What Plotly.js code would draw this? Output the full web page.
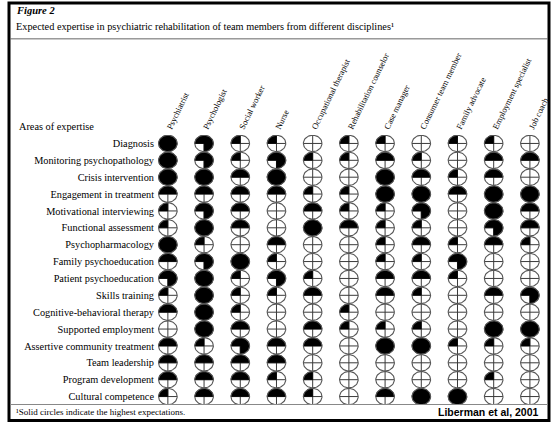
<!DOCTYPE html>
<html><head><meta charset="utf-8">
<script src="https://cdn.plot.ly/plotly-3.0.1.min.js"></script>
<style>html,body{margin:0;padding:0;background:#fff}</style>
</head><body><div id="chart" style="width:557px;height:426px"></div>
<script>
const disciplines = ["Psychiatrist","Psychologist","Social worker","Nurse","Occupational therapist","Rehabilitation counselor","Case manager","Consumer team member","Family advocate","Employment specialist","Job coach"];
const areas = ["Diagnosis","Monitoring psychopathology","Crisis intervention","Engagement in treatment","Motivational interviewing","Functional assessment","Psychopharmacology","Family psychoeducation","Patient psychoeducation","Skills training","Cognitive-behavioral therapy","Supported employment","Assertive community treatment","Team leadership","Program development","Cultural competence"];
// filled quarters (0-4) per discipline, one value per area
const psychiatrist = [4,4,4,2,1,1,4,2,3,1,2,0,2,2,2,1];
const psychologist = [3,3,4,2,3,4,1,3,4,4,4,4,1,2,2,2];
const socialWorker = [1,1,2,2,2,2,0,4,1,1,1,2,3,2,2,2];
const nurse        = [1,3,4,2,0,0,2,1,3,1,0,0,2,2,1,2];
const occTherapist = [0,1,0,1,2,4,0,0,1,2,0,2,2,0,1,1];
const rehabCounsel = [1,1,0,1,1,2,0,0,0,0,1,1,0,0,0,0];
const caseManager  = [1,2,4,4,1,1,1,1,2,2,0,1,4,0,0,2];
const consumer     = [0,1,2,4,3,1,2,1,2,1,0,1,4,0,0,4];
const familyAdv    = [1,0,1,2,0,0,1,3,1,0,0,0,1,0,0,4];
const employSpec   = [1,2,2,4,4,3,2,0,0,2,0,4,1,0,1,0];
const jobCoach     = [0,2,0,4,2,2,1,0,0,3,0,4,1,0,0,0];
const values = [psychiatrist,psychologist,socialWorker,nurse,occTherapist,rehabCounsel,caseManager,consumer,familyAdv,employSpec,jobCoach];

const W=557,H=426,ml=157,mr=9,mt=134.5,mb=20.5;
const pw=W-ml-mr, ph=H-mt-mb;
const xr=[-0.3,10.5], yr=[15.5,-0.5];
const ux = pw/(xr[1]-xr[0]), uy = ph/(yr[0]-yr[1]);
const rx = 9.3/ux, ry = 8.2/uy;
const PX = p => (p-ml)/pw, PY = p => (H-mb-p)/ph;

const wx=[],wy=[],ox=[],oy=[],cx=[],cy=[];
const N=48;
values.forEach((col,i)=>{
  col.forEach((v,j)=>{
    for(let k=0;k<=N;k++){const t=2*Math.PI*k/N; ox.push(i+rx*Math.cos(t)); oy.push(j-ry*Math.sin(t));}
    ox.push(null); oy.push(null);
    cx.push(i-rx,i+rx,null,i,i,null); cy.push(j,j,null,j-ry,j+ry,null);
    if(v>0){
      const a1=Math.PI, a0=Math.PI-v*Math.PI/2;
      const steps=Math.max(4,Math.round(12*v));
      if(v<4){wx.push(i); wy.push(j);}
      for(let k=0;k<=steps;k++){const t=a0+(a1-a0)*k/steps; wx.push(i+rx*Math.cos(t)); wy.push(j-ry*Math.sin(t));}
      if(v<4){wx.push(i); wy.push(j);}
      wx.push(null); wy.push(null);
    }
  });
});

const traces=[
  {x:cx,y:cy,mode:'lines',line:{color:'#3a3a3a',width:1},hoverinfo:'skip',type:'scatter'},
  {x:wx,y:wy,mode:'lines',fill:'toself',fillcolor:'#000',line:{color:'#000',width:0.6},hoverinfo:'skip',type:'scatter'},
  {x:ox,y:oy,mode:'lines',line:{color:'#555',width:1.1},hoverinfo:'skip',type:'scatter'}
];
const serif='"Liberation Serif", "DejaVu Serif", serif';
const layout={
  width:W,height:H,margin:{l:ml,r:mr,t:mt,b:mb},
  paper_bgcolor:'#fff',plot_bgcolor:'#fff',showlegend:false,
  xaxis:{range:xr,side:'top',tickmode:'array',tickvals:disciplines.map((d,i)=>i),ticktext:disciplines,tickangle:-64,
    showgrid:false,zeroline:false,showline:false,ticks:'',tickfont:{family:serif,size:8.5,color:'#000'},fixedrange:true},
  yaxis:{range:yr,tickmode:'array',tickvals:areas.map((a,j)=>j),ticktext:areas,
    showgrid:false,zeroline:false,showline:false,ticks:'',ticklabelstandoff:2,tickfont:{family:serif,size:10.3,color:'#000'},fixedrange:true},
  shapes:[
    {type:'rect',xref:'paper',yref:'paper',x0:PX(9),x1:PX(549),y0:PY(2),y1:PY(421),line:{color:'#000',width:3}},
    {type:'line',xref:'paper',yref:'paper',x0:PX(10),x1:PX(548),y0:PY(38),y1:PY(38),line:{color:'#666',width:1}},
    {type:'line',xref:'paper',yref:'paper',x0:PX(10),x1:PX(548),y0:PY(405),y1:PY(405),line:{color:'#888',width:1}}
  ],
  annotations:[
    {xref:'paper',yref:'paper',x:PX(14),y:PY(10),xanchor:'left',yanchor:'middle',showarrow:false,text:'<b><i>Figure 2</i></b>',font:{family:serif,size:10.5,color:'#000'}},
    {xref:'paper',yref:'paper',x:PX(14),y:PY(26),xanchor:'left',yanchor:'middle',showarrow:false,text:'Expected expertise in psychiatric rehabilitation of team members from different disciplines¹',font:{family:serif,size:10.3,color:'#000'}},
    {xref:'paper',yref:'paper',x:PX(17),y:PY(126),xanchor:'left',yanchor:'middle',showarrow:false,text:'Areas of expertise',font:{family:serif,size:10.3,color:'#000'}},
    {xref:'paper',yref:'paper',x:PX(14),y:PY(413),xanchor:'left',yanchor:'middle',showarrow:false,text:'¹Solid circles indicate the highest expectations.',font:{family:serif,size:9,color:'#000'}},
    {xref:'paper',yref:'paper',x:PX(541),y:PY(413),xanchor:'right',yanchor:'middle',showarrow:false,text:'<b>Liberman et al, 2001</b>',font:{family:'"Liberation Sans", Arial, sans-serif',size:10.5,color:'#000'}}
  ]
};
Plotly.newPlot('chart',traces,layout,{displayModeBar:false,staticPlot:true});
</script></body></html>
